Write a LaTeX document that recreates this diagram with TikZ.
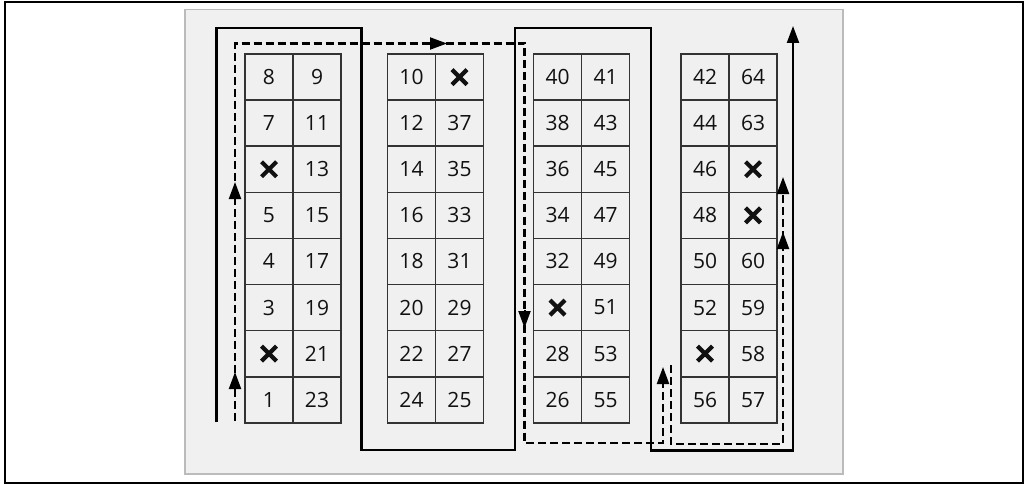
\documentclass[tikz,border=0pt]{standalone}
\usepackage{fontspec}
\usepackage{ifthen}
\setmainfont{Open Sans}
\usetikzlibrary{arrows.meta}
\definecolor{panel}{HTML}{F0F0F0}
\definecolor{panelborder}{HTML}{BBBBBB}
\definecolor{gridline}{HTML}{333333}
\definecolor{celltext}{HTML}{111111}
\newcommand\drawx[1]{\draw[xmark] ([shift={(-7.5,-7.5)}]#1.center) -- ([shift={(7.5,7.5)}]#1.center) ([shift={(-7.5,7.5)}]#1.center) -- ([shift={(7.5,-7.5)}]#1.center);}
\newcommand\drawblock[3]{%
  \foreach \l/\r [count=\i from 0] in {#3}{%
    \pgfmathsetmacro\cy{54+23.05+46.1*\i}
    \node[cell] (#1\i l) at (#2+24,\cy) {\ifthenelse{\equal{\l}{X}}{}{\l}};
    \node[cell] (#1\i r) at (#2+72,\cy) {\ifthenelse{\equal{\r}{X}}{}{\r}};
    \ifthenelse{\equal{\l}{X}}{\drawx{#1\i l}}{}
    \ifthenelse{\equal{\r}{X}}{\drawx{#1\i r}}{}
  }}
\begin{document}
\begin{tikzpicture}[x=1pt,y=-1pt,
  cell/.style={draw=gridline, line width=1.6pt, minimum width=48pt, minimum height=46.1pt, inner sep=0pt, font=\fontsize{21}{21}\selectfont, text=celltext},
  route/.style={line width=2.2pt, black},
  dashroute/.style={line width=2.1pt, black, dash pattern=on 8pt off 4pt},
  tip/.style={-{Triangle[length=17pt,width=12pt]}},
  midtip/.style={-{Triangle[length=17pt,width=12pt]}, line width=2pt},
  xmark/.style={line width=4.2pt, celltext}]
\useasboundingbox (0,0) rectangle (1025,484);
\draw[line width=2pt] (4.5,2) rectangle (1022.5,482.5);
\draw[panelborder, fill=panel, line width=1.8pt] (185,9.5) rectangle (843,474);
% cells
\drawblock{a}{245}{8/9,7/11,X/13,5/15,4/17,3/19,X/21,1/23}
\drawblock{b}{387.5}{10/X,12/37,14/35,16/33,18/31,20/29,22/27,24/25}
\drawblock{c}{533.5}{40/41,38/43,36/45,34/47,32/49,X/51,28/53,26/55}
\drawblock{d}{681}{42/64,44/63,46/X,48/X,50/60,52/59,X/58,56/57}
% solid route
\coordinate (s0) at (216.5,422);
\coordinate (s1) at (216.5,28);
\coordinate (s2) at (361.5,28);
\coordinate (s3) at (361.5,450);
\coordinate (s4) at (515,450);
\coordinate (s5) at (515,28);
\coordinate (s6) at (651,28);
\coordinate (s7) at (651,450.5);
\coordinate (s8) at (793,450.5);
\coordinate (s9) at (793,26);
\draw[route, tip] (s0) -- (s1) -- (s2) -- (s3) -- (s4) -- (s5) -- (s6) -- (s7) -- (s8) -- (s9);
% dashed route
\coordinate (d0) at (235,421);
\coordinate (d1) at (235,43.5);
\coordinate (d2) at (524.5,43.5);
\coordinate (d3) at (524.5,443);
\coordinate (d4) at (663,443);
\coordinate (d5) at (663,367);
\draw[dashroute, tip] (d0) -- (d1) -- (d2) -- (d3) -- (d4) -- (d5);
\coordinate (e0) at (671,365);
\coordinate (e1) at (671,444);
\coordinate (e2) at (783,444);
\coordinate (e3) at (783,177);
\draw[dashroute, tip] (e0) -- (e1) -- (e2) -- (e3);
% arrows along the dashed route
\draw[midtip] (235,390) -- (235,372);
\draw[midtip] (235,200) -- (235,182);
\draw[midtip] (429,43.5) -- (447,43.5);
\draw[midtip] (524.5,310) -- (524.5,328);
\draw[midtip] (783,250) -- (783,232);
\end{tikzpicture}
\end{document}
